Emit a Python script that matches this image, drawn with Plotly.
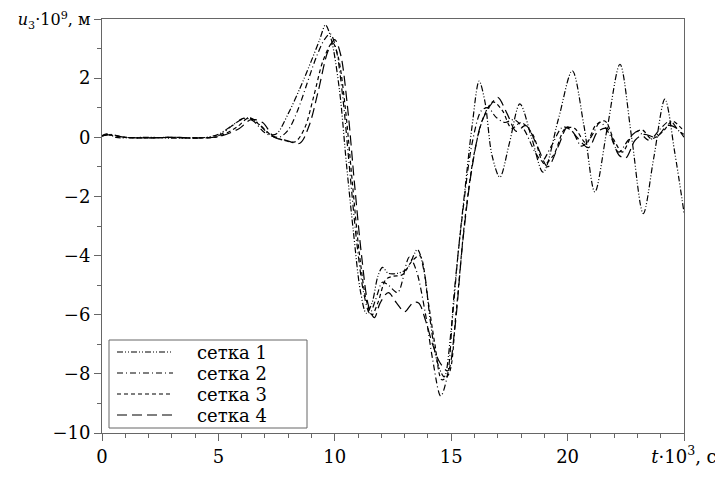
import plotly.graph_objects as go

# ---- data (t*10^3 s, u3*10^9 m) ----
t1 = [0, 0.2, 0.6, 1, 2, 3, 4, 4.5, 5.0, 5.5, 6.0, 6.4, 6.8, 7.2, 7.5, 8.0, 8.5, 9.0, 9.35, 9.6,
      9.85, 10.2, 10.5, 10.8, 11.1, 11.35, 11.6, 11.85, 12.05, 12.3, 12.7, 13.1, 13.55, 13.85, 14.1,
      14.4, 14.7, 15.0, 15.3, 15.6, 15.9, 16.2, 16.45, 16.75, 17.09, 17.5, 17.95, 18.45, 18.95, 19.6,
      20.2, 20.7, 21.17, 21.7, 22.25, 22.75, 23.25, 23.7, 24.18, 24.6, 25]
u1 = [0.05, 0.12, 0.0, -0.02, 0.0, -0.03, -0.02, 0.0, 0.1, 0.35, 0.6, 0.65, 0.4, 0.1, 0.12, 0.8, 1.65, 2.6, 3.3, 3.8,
      3.3, 1.6, -0.9, -3.2, -5.2, -5.95, -5.6, -4.7, -4.4, -4.6, -4.6, -4.45, -3.8, -4.6, -6.2,
      -7.6, -8.1, -6.5, -3.9, -1.7, 0.4, 1.9, 1.2, -0.6, -1.35, -0.2, 1.13, 0.0, -1.18, 0.6,
      2.25, 0.4, -1.85, 0.3, 2.47, 0.0, -2.58, -0.7, 1.29, -0.5, -2.55]

t2 = [0, 0.3, 1, 2, 3, 4, 5.0, 5.6, 6.1, 6.5, 7.0, 7.6, 8.0, 8.4, 8.8, 9.2, 9.55, 9.8, 10.05, 10.35,
      10.65, 10.95, 11.25, 11.5, 11.75, 12.05, 12.3, 12.7, 13.2, 13.5, 13.9, 14.2, 14.55, 14.85, 15.1,
      15.5, 15.9, 16.3, 16.6, 16.9, 17.3, 17.7, 18.1, 18.6, 18.9, 19.3, 19.8, 20.2, 20.6, 21.0, 21.4,
      21.8, 22.2, 22.6, 23.0, 23.5, 24.0, 24.4, 24.8, 25]
u2 = [0.05, 0.1, 0.0, -0.02, 0.0, -0.03, 0.05, 0.4, 0.65, 0.55, 0.15, 0.0, 0.25, 0.9, 1.8, 2.7, 3.3, 3.5, 3.0, 1.3,
      -1.2, -3.6, -5.3, -5.95, -5.5, -4.9, -5.0, -5.25, -4.05, -4.5, -6.0, -7.5, -8.75, -8.0, -5.5,
      -2.5, -0.2, 0.9, 1.0, 0.7, 0.5, 0.6, 0.3, -0.5, -0.8, -0.3, 0.35, 0.2, -0.3, 0.0, 0.5,
      0.1, -0.5, -0.1, 0.2, -0.1, 0.3, 0.55, 0.2, 0.1]

t3 = [0, 0.3, 1, 2, 3, 4, 5.0, 5.8, 6.3, 6.8, 7.3, 7.8, 8.3, 8.7, 9.1, 9.5, 9.9, 10.15, 10.45, 10.75,
      11.05, 11.35, 11.6, 11.85, 12.2, 12.5, 12.9, 13.3, 13.65, 14.0, 14.3, 14.6, 14.9, 15.2, 15.6,
      16.0, 16.4, 16.8, 17.2, 17.6, 18.0, 18.5, 19.0, 19.4, 19.9, 20.3, 20.8, 21.2, 21.6, 22.0, 22.35,
      22.8, 23.2, 23.6, 24.1, 24.5, 24.9, 25]
u3 = [0.05, 0.08, 0.0, -0.02, 0.0, -0.02, 0.03, 0.35, 0.65, 0.4, 0.05, -0.1, -0.15, 0.3, 1.4, 2.6, 3.2, 2.7, 1.0, -1.5,
      -3.9, -5.5, -6.0, -5.6, -4.8, -4.7, -4.65, -4.2, -4.0, -5.5, -7.0, -8.2, -8.0, -6.0, -2.7,
      -0.5, 0.7, 1.2, 0.9, 0.3, 0.5, 0.1, -0.9, -0.6, 0.3, 0.3, -0.2, 0.4, 0.55, -0.1, -0.5,
      0.1, 0.25, -0.05, 0.2, 0.55, 0.3, 0.25]

t4 = [0, 0.3, 1, 2, 3, 4, 5.0, 5.9, 6.4, 6.9, 7.4, 7.9, 8.5, 8.9, 9.3, 9.7, 10.0, 10.25, 10.55, 10.85,
      11.15, 11.45, 11.7, 11.95, 12.3, 12.65, 13.0, 13.35, 13.6, 13.9, 14.2, 14.5, 14.85, 15.15, 15.5,
      15.9, 16.3, 16.7, 17.0, 17.4, 17.8, 18.2, 18.7, 19.15, 19.6, 20.0, 20.4, 20.9, 21.3, 21.7, 22.2,
      22.5, 22.9, 23.3, 23.8, 24.3, 24.7, 25]
u4 = [0.05, 0.08, 0.0, -0.02, 0.0, -0.02, 0.02, 0.3, 0.6, 0.5, 0.0, -0.1, -0.2, 0.4, 1.6, 2.9, 3.3, 2.8, 1.0, -1.6,
      -4.0, -5.7, -6.1, -5.6, -5.25, -5.6, -5.9, -5.6, -5.6, -6.2, -7.0, -7.6, -7.9, -6.5, -3.5,
      -1.0, 0.5, 1.1, 1.35, 0.8, 0.2, 0.4, -0.3, -1.0, -0.3, 0.35, 0.0, -0.35, 0.2, 0.3, -0.6,
      -0.7, -0.1, 0.1, 0.0, 0.4, 0.3, 0.0]

names = ["сетка 1", "сетка 2", "сетка 3", "сетка 4"]
x_ticks = [0, 5, 10, 15, 20, 25]
x_labels = ["0", "5", "10", "15", "20", "<i>t</i>·10<sup>3</sup>, c"]
y_ticks = [-10, -8, -6, -4, -2, 0, 2, 4]
y_labels = ["−10", "−8", "−6", "−4", "−2", "0", "2",
            "<span style='font-size:16px'><i>u</i><sub>3</sub>·10<sup>9</sup>, м</span>"]

dashes = ["6px,2px,1px,2px,1px,2px", "6px,3px,1px,3px", "4px,3px", "10px,5px"]
series = [(t1, u1), (t2, u2), (t3, u3), (t4, u4)]

FONT = "DejaVu Serif"
AX = "#666666"

fig = go.Figure()
for (tt, uu), nm, ds in zip(series, names, dashes):
    fig.add_trace(go.Scatter(x=tt, y=uu, mode="lines", name=nm, showlegend=False,
                             line=dict(color="black", width=1.2, dash=ds, shape="spline", smoothing=0.9)))

axis_common = dict(showgrid=False, zeroline=False, showline=True, linecolor=AX, linewidth=1,
                   mirror=True, ticks="outside", ticklen=7, tickcolor=AX, automargin=False,
                   ticklabeloverflow="allow",
                   tickfont=dict(family=FONT, size=18, color="black"))

fig.update_xaxes(range=[0, 25], tickvals=x_ticks, ticktext=x_labels,
                 minor=dict(dtick=1, ticks="outside", ticklen=4, tickcolor=AX),
                 **axis_common)
fig.update_yaxes(range=[-10, 4], tickvals=y_ticks, ticktext=y_labels,
                 minor=dict(dtick=1, ticks="outside", ticklen=4, tickcolor=AX),
                 **axis_common)

# page body has an 8px margin, so the figure is drawn 8px smaller and placed accordingly
OFF = 8
L, T = 102 - OFF, 19 - OFF
W, H = 723 - OFF, 477 - OFF
PW, PH = 582.0, 414.0

def px(xp):
    return (xp - 102) / PW

def py(yp):
    return (433 - yp) / PH

shapes = [dict(type="rect", xref="paper", yref="paper", x0=px(109), x1=px(307), y0=py(428), y1=py(340),
               line=dict(color=AX, width=1), fillcolor="white", layer="above")]
annotations = []
item_y = [352, 373, 394, 415]
for nm, ds, yy in zip(names, dashes, item_y):
    shapes.append(dict(type="line", xref="paper", yref="paper", x0=px(117), x1=px(173), y0=py(yy), y1=py(yy),
                       line=dict(color="black", width=1.2, dash=ds), layer="above"))
    annotations.append(dict(xref="paper", yref="paper", x=px(195), y=py(yy), xanchor="left", yanchor="middle",
                            text=nm, showarrow=False, height=20, valign="middle",
                            font=dict(family=FONT, size=18, color="black")))

fig.update_layout(
    width=W, height=H,
    margin=dict(l=L, r=W - L - int(PW), t=T, b=H - T - int(PH), autoexpand=False),
    paper_bgcolor="white", plot_bgcolor="white",
    font=dict(family=FONT, size=18, color="black"),
    showlegend=False,
    shapes=shapes, annotations=annotations,
)

fig.write_html("out.html")
